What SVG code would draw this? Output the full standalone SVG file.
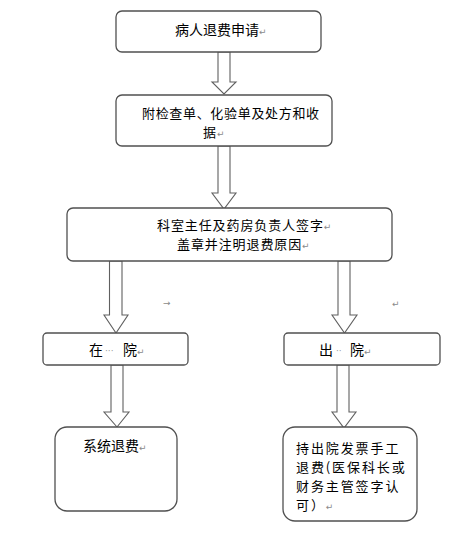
<svg xmlns="http://www.w3.org/2000/svg" width="476" height="535" viewBox="0 0 476 535">
<style>
.box{fill:#fff;stroke:#505050;stroke-width:1.3}
.arr{fill:#fff;stroke:#606060;stroke-width:1.1;stroke-linejoin:miter}
text{font-family:"Noto Sans CJK SC","Noto Sans CJK TC",sans-serif;font-size:14px;fill:#000}
.ml{font-size:13px;letter-spacing:0.9px}
.mk{font-family:"DejaVu Sans",sans-serif;font-size:9px;fill:#8a8a8a;letter-spacing:0}
.dot{font-family:"DejaVu Sans",sans-serif;fill:#999;font-size:9px}
</style>
<rect width="476" height="535" fill="#fff"/>
<g id="connectors">
<path class="arr" d="M218,52 H230 V82 H236 L224,94 L212,82 H218 Z"/>
<path class="arr" d="M218,146 H230 V193 H236 L224,209 L212,193 H218 Z"/>
<path class="arr" d="M109.5,261 H122 V315 H128 L116,333 L104,315 H109.5 Z"/>
<path class="arr" d="M338,261 H350 V315 H357 L344.5,333 L332,315 H338 Z"/>
<path class="arr" d="M111,365 H123 V412 H129 L117,427 L104,412 H111 Z"/>
<path class="arr" d="M337,365 H349 V412 H356 L344,428 L332,412 H337 Z"/>
</g>
<g id="n1">
<rect class="box" x="116" y="11" width="205" height="41" rx="6"/>
<text x="175" y="35">病人退费申请<tspan class="mk">↵</tspan></text>
</g>
<g id="n2">
<rect class="box" x="116" y="95" width="216" height="51" rx="6"/>
<text class="ml" x="142" y="118" textLength="178">附检查单、化验单及处方和收</text>
<text class="ml" x="203" y="137">据<tspan class="mk">↵</tspan></text>
</g>
<g id="n3">
<rect class="box" x="67" y="208" width="325" height="53" rx="6"/>
<text class="ml" x="157" y="230">科室主任及药房负责人签字<tspan class="mk">↵</tspan></text>
<text class="ml" x="177" y="249">盖章并注明退费原因<tspan class="mk">↵</tspan></text>
</g>
<g id="n4">
<rect class="box" x="43" y="333" width="145" height="32" rx="4"/>
<text x="89" y="355">在</text>
<text class="dot" x="105" y="354">···</text>
<text x="123" y="355">院<tspan class="mk">↵</tspan></text>
</g>
<g id="n5">
<rect class="box" x="284" y="333" width="156" height="32" rx="4"/>
<text x="319" y="355">出</text>
<text class="dot" x="336" y="354">··</text>
<text x="350" y="355">院<tspan class="mk">↵</tspan></text>
</g>
<g id="n6">
<rect class="box" x="55" y="427" width="122" height="84" rx="12"/>
<text x="83" y="451">系统退费<tspan class="mk">↵</tspan></text>
</g>
<g id="n7">
<rect class="box" x="283" y="427" width="134" height="94" rx="12"/>
<text class="ml" x="296" y="453" style="letter-spacing:1.9px">持出院发票手工</text>
<text class="ml" x="296" y="472" style="letter-spacing:1.9px">退费(医保科长或</text>
<text class="ml" x="296" y="491" style="letter-spacing:1.9px">财务主管签字认</text>
<text class="ml" x="296" y="510" style="letter-spacing:1.9px">可）<tspan class="mk">↵</tspan></text>
</g>
<text class="mk" x="163" y="306">→</text>
<text class="mk" x="392" y="307">↵</text>
</svg>
